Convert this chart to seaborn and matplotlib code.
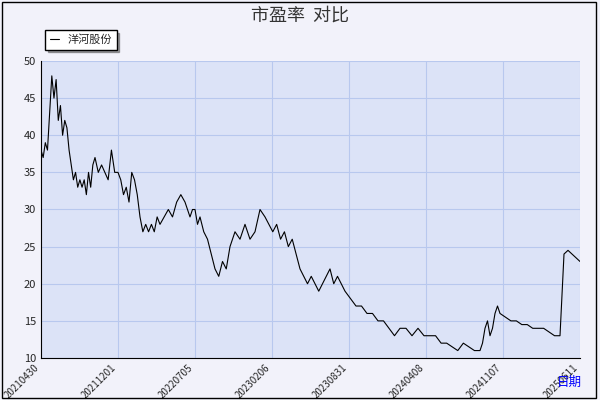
import matplotlib
matplotlib.use("Agg")
import matplotlib.pyplot as plt
import seaborn as sns
import pandas as pd
import numpy as np

sns.set_style("white")
plt.rcParams['font.family'] = ['Noto Sans CJK SC', 'DejaVu Sans']

# (start, end) in chart units (0..539 spans 20210430..20250611), with values read in that span
seg_bounds = [(0, 54), (54, 77), (77, 99), (99, 119), (119, 144), (144, 159), (159, 189),
              (189, 224), (224, 259), (259, 304), (304, 359), (359, 389), (389, 439),
              (439, 459), (459, 519), (519, 539)]
seg_values = [
    [38,37,39,38,43,48,45,47.5,42,44,40,42,41,38,36,34,35,33,34,33,34,32,35,33,36],
    [37,35,36,35,34,38,35],
    [35,34,32,33,31,35,34,32],
    [29,27,28,27,28,27,29],
    [28,29,30,29,31,32],
    [31,30,29,30,30,28],
    [29,27,26,24,22,21,23,22],
    [25,27,26,28,26,27,30],
    [29,28,27,28,26,27,25,26,24],
    [22,21,20,21,20,19,20,21,22,20,21,20],
    [19,18,17,17,16,16,15,15,14,13],
    [14,14,13,14,13],
    [13,13,12,12,11.5,11,12,11.5,11],
    [11,12,14,15,13,14,16,17],
    [16,15.5,15,15,14.5,14.5,14,14,14,13.5,13],
    [13,24,24.5,24,23.5,23],
]
tick_labels = ["20210430","20211201","20220705","20230206","20230831","20240408","20241107","20250611"]
series_name = "洋河股份"

xs, ys = [], []
for (a, b), vals in zip(seg_bounds, seg_values):
    pos = np.linspace(a, b, len(vals), endpoint=False) if b != 539 else np.linspace(a, b, len(vals))
    xs.extend(pos); ys.extend(vals)
df = pd.DataFrame({"x": xs, "pe": ys})

fig = plt.figure(figsize=(6, 4), dpi=100, facecolor="#F2F2FA")
ax = fig.add_axes([41/600, 1-358/400, 539/600, 297/400])
ax.set_facecolor("#DCE3F7")
sns.lineplot(data=df, x="x", y="pe", ax=ax, color="black", linewidth=0.8, label=series_name, sort=False)
ax.set_xlim(0, 539)
ax.set_ylim(10, 50)
ax.set_yticks(range(10, 51, 5))
ax.set_xticks(np.linspace(0, 539, len(tick_labels)))
ax.set_xticklabels(tick_labels, rotation=45, ha="right", fontsize=7)
ax.tick_params(axis="y", labelsize=8, length=3, direction="in")
ax.tick_params(axis="x", length=3, direction="in")
ax.grid(True, color="#B8C8EE", linewidth=0.8)
ax.set_xlabel("")
ax.set_ylabel("")
for s in ["top", "right"]:
    ax.spines[s].set_visible(False)
ax.spines["left"].set_color("black")
ax.spines["bottom"].set_color("black")
leg = ax.legend(loc="lower left", bbox_to_anchor=(-0.002, 1.02), frameon=True, fancybox=False,
                fontsize=8, handlelength=0.8, borderpad=0.4, edgecolor="black", shadow=True)
fig.text(0.5, 0.962, "市盈率  对比", ha="center", va="center", fontsize=13, color="#333333")
fig.text(0.97, 0.045, "日期", ha="right", va="center", fontsize=9, color="blue")
fig.patches.append(plt.Rectangle((0.003, 0.005), 0.99, 0.99, transform=fig.transFigure,
                                 fill=False, edgecolor="black", linewidth=1))
fig.savefig("out.png", dpi=100, facecolor=fig.get_facecolor())
